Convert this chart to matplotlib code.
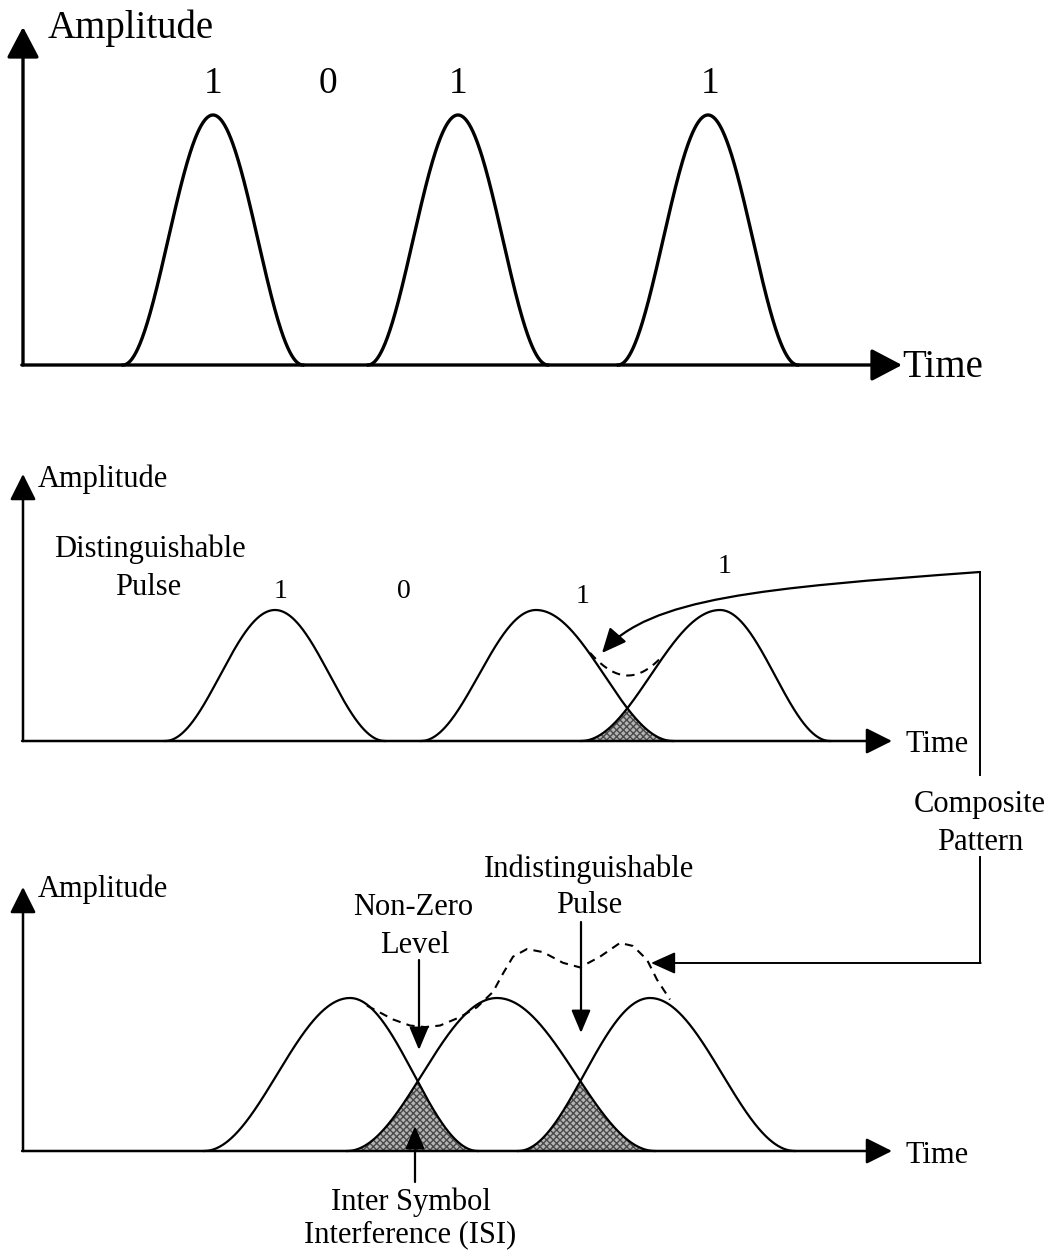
import numpy as np
import matplotlib.pyplot as plt
from matplotlib.patches import FancyArrowPatch
from matplotlib.path import Path

plt.rcParams['font.family'] = ['Liberation Serif', 'DejaVu Serif']

# ---- data (time axis in px, amplitude normalised to pulse height) ----
top_bits = ['1', '0', '1', '1']
top_bit_x = [213, 328, 458, 710]
top_pulse_x = [213, 458, 708]
top_pulse_wl = [90, 90, 90]
top_pulse_wr = [90, 90, 90]

mid_bits = ['1', '0', '1', '1']
mid_bit_x = [281, 404, 583, 725]
mid_bit_amp = [1.09, 1.09, 1.05, 1.28]
mid_pulse_x = [275, 536, 720]
mid_pulse_wl = [110, 115, 139]
mid_pulse_wr = [110, 137, 110]

bot_pulse_x = [350, 497, 650]
bot_pulse_wl = [146, 150, 132]
bot_pulse_wr = [128, 158, 145]

# dashed composite trace of the bottom panel
bot_comp_x = [367, 393, 410, 425, 440, 460, 477, 493, 503, 513, 527, 543,
              563, 580, 600, 620, 633, 647, 657, 670]
bot_comp_amp = [0.95, 0.86, 0.82, 0.81, 0.82, 0.875, 0.94, 1.04, 1.16, 1.27,
                1.32, 1.30, 1.23, 1.20, 1.27, 1.36, 1.34, 1.25, 1.12, 0.99]

# ---- layout (pixels) ----
# panel: (baseline y, px per amplitude unit, y-axis top, x-axis end)
TOP = (365, 250, 27, 902)
MID = (741, 131, 474, 892)
BOT = (1151, 153, 887, 892)
AX_X = 23
FS = 22


def pulse(x, c, wl, wr):
    w = np.where(x < c, wl, wr)
    y = 0.5 * (1 + np.cos(np.pi * (x - c) / w))
    y[np.abs(x - c) >= w] = 0
    return y


def to_px(panel, amp):
    base, scale = panel[0], panel[1]
    return base - np.asarray(amp) * scale


fig = plt.figure(figsize=(10.59, 12.55), dpi=100)
ax = fig.add_axes([0, 0, 1, 1])
ax.set_xlim(0, 1059)
ax.set_ylim(1255, 0)
ax.axis('off')


def axes_arrows(panel, lw, ms, hl, hw):
    base, _, ytop, xend = panel
    st = '-|>,head_length=%s,head_width=%s' % (hl, hw)
    ax.annotate('', xy=(AX_X, ytop), xytext=(AX_X, base),
                arrowprops=dict(arrowstyle=st, lw=lw, color='black',
                                mutation_scale=ms, shrinkA=0, shrinkB=0))
    ax.annotate('', xy=(xend, base), xytext=(AX_X - lw / 2, base),
                arrowprops=dict(arrowstyle=st, lw=lw, color='black',
                                mutation_scale=ms, shrinkA=0, shrinkB=0))


def arrow(x, y0, y1, ms=14):
    ax.annotate('', xy=(x, y1), xytext=(x, y0),
                arrowprops=dict(arrowstyle='-|>,head_length=1.0,head_width=0.42',
                                lw=1.6, color='black', mutation_scale=ms,
                                shrinkA=0, shrinkB=0))


def draw_pulses(panel, t, cs, wls, wrs, lw):
    curves = []
    for c, wl, wr in zip(cs, wls, wrs):
        y = pulse(t, c, wl, wr)
        m = (t >= c - wl) & (t <= c + wr)
        ax.plot(t[m], to_px(panel, y[m]), color='black', lw=lw)
        curves.append(y)
    return curves


def shade_isi(panel, t, a, b):
    isi = np.minimum(a, b)
    ax.fill_between(t, to_px(panel, isi), panel[0], where=isi > 0,
                    facecolor='#b4b4b4', edgecolor='#4a4a4a', hatch='xxxxx',
                    lw=0)


# ---------------- top panel ----------------
axes_arrows(TOP, 2.4, 20, 0.95, 0.5)
t_top = np.linspace(100, 820, 2000)
draw_pulses(TOP, t_top, top_pulse_x, top_pulse_wl, top_pulse_wr, 2.4)
for b, x in zip(top_bits, top_bit_x):
    ax.text(x, 93, b, fontsize=27, ha='center', va='baseline')
ax.text(48, 38, 'Amplitude', fontsize=28, ha='left', va='baseline')
ax.text(902, 377, 'Time', fontsize=28, ha='left', va='baseline')

# ---------------- middle panel ----------------
axes_arrows(MID, 1.8, 16, 1.0, 0.5)
t_mid = np.linspace(100, 860, 2000)
mid_curves = draw_pulses(MID, t_mid, mid_pulse_x, mid_pulse_wl,
                         mid_pulse_wr, 1.6)
shade_isi(MID, t_mid, mid_curves[1], mid_curves[2])
m = (t_mid > 590) & (t_mid < 661)
ax.plot(t_mid[m], to_px(MID, mid_curves[1][m] + mid_curves[2][m]),
        color='black', lw=1.5, ls=(0, (4, 3)))
ax.text(38, 487, 'Amplitude', fontsize=FS, ha='left', va='baseline')
ax.text(905, 752, 'Time', fontsize=FS, ha='left', va='baseline')
ax.text(150, 557, 'Distinguishable', fontsize=FS, ha='center', va='baseline')
ax.text(148, 595, 'Pulse', fontsize=FS, ha='center', va='baseline')
for b, x, a in zip(mid_bits, mid_bit_x, mid_bit_amp):
    ax.text(x, to_px(MID, a), b, fontsize=20, ha='center', va='baseline')

# curved arrow from the composite connector into the middle panel
curve = Path([(980, 572), (760, 588), (650, 598), (602, 653)],
             [Path.MOVETO, Path.CURVE4, Path.CURVE4, Path.CURVE4])
ax.add_patch(FancyArrowPatch(path=curve,
                             arrowstyle='-|>,head_length=1.0,head_width=0.45',
                             mutation_scale=15, lw=1.6, color='black'))

# composite pattern connector
ax.plot([980, 980], [572, 775], color='black', lw=1.4)
ax.plot([980, 980], [857, 963], color='black', lw=1.4)
ax.annotate('', xy=(651, 963), xytext=(980.7, 963),
            arrowprops=dict(arrowstyle='-|>,head_length=1.0,head_width=0.45',
                            lw=1.4, color='black', mutation_scale=15,
                            shrinkA=0, shrinkB=0))
ax.text(980, 812, 'Composite', fontsize=FS, ha='center', va='baseline')
ax.text(980, 850, 'Pattern', fontsize=FS, ha='center', va='baseline')

# ---------------- bottom panel ----------------
axes_arrows(BOT, 1.8, 16, 1.0, 0.5)
t_bot = np.linspace(150, 860, 2000)
bot_curves = draw_pulses(BOT, t_bot, bot_pulse_x, bot_pulse_wl,
                         bot_pulse_wr, 1.6)
for i in range(2):
    shade_isi(BOT, t_bot, bot_curves[i], bot_curves[i + 1])
ax.plot(bot_comp_x, to_px(BOT, bot_comp_amp), color='black', lw=1.5,
        ls=(0, (4, 3)))
ax.text(38, 897, 'Amplitude', fontsize=FS, ha='left', va='baseline')
ax.text(905, 1163, 'Time', fontsize=FS, ha='left', va='baseline')

ax.text(413, 915, 'Non-Zero', fontsize=FS, ha='center', va='baseline')
ax.text(415, 953, 'Level', fontsize=FS, ha='center', va='baseline')
arrow(419, 960, 1050)

ax.text(589, 877, 'Indistinguishable', fontsize=FS, ha='center',
        va='baseline')
ax.text(589, 913, 'Pulse', fontsize=FS, ha='center', va='baseline')
arrow(581, 922, 1033)

arrow(415, 1182, 1126)
ax.text(411, 1210, 'Inter Symbol', fontsize=FS, ha='center', va='baseline')
ax.text(410, 1242, 'Interference (ISI)', fontsize=FS, ha='center',
        va='baseline')

fig.savefig('out.png', dpi=100, facecolor='white')
